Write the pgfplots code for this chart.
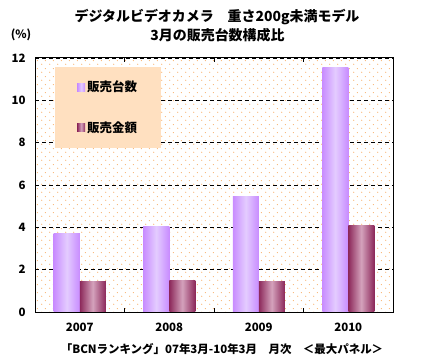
\documentclass[border=0pt]{standalone}
\usepackage{pgfplots}
\pgfplotsset{compat=1.18}
\usepackage{fontspec}
\setmainfont{Noto Sans CJK JP}
\usetikzlibrary{patterns}
\pgfdeclarepatternformonly{bgdots}{\pgfqpoint{0bp}{0bp}}{\pgfqpoint{8bp}{8bp}}{\pgfqpoint{8bp}{8bp}}{%
 \pgfpathcircle{\pgfqpoint{2bp}{2bp}}{0.65bp}\pgfpathcircle{\pgfqpoint{6bp}{6bp}}{0.65bp}\pgfusepath{fill}}
\definecolor{dotc}{RGB}{248,180,115}
\definecolor{purE}{RGB}{200,140,255}
\definecolor{purM}{RGB}{228,204,255}
\definecolor{magE}{RGB}{140,40,90}
\definecolor{magM}{RGB}{212,162,188}
\definecolor{legbg}{RGB}{255,224,192}
\pgfplotsset{
  purbar/.style={draw=none, left color=purE, right color=purE, middle color=purM, bar shift=-13bp},
  magbar/.style={draw=none, left color=magE, right color=magE, middle color=magM, bar shift=13bp},
}
\begin{document}
\begin{tikzpicture}
\useasboundingbox (-35bp,-50bp) rectangle (393bp,312bp);
\begin{axis}[
  at={(0,0)}, anchor=south west,
  scale only axis, width=358bp, height=254bp,
  xmin=-0.5, xmax=3.5, ymin=0, ymax=12,
  ybar, bar width=26bp,
  xtick={0.5,1.5,2.5}, xticklabels={},
  extra x ticks={0,1,2,3}, extra x tick labels={2007,2008,2009,2010},
  extra x tick style={major tick length=0pt},
  major tick length=4bp, tick align=inside,
  xtick style={black, line width=0.8bp},
  ytick={0,2,...,12}, ytick style={draw=none},
  ymajorgrids, major grid style={black, dash pattern=on 4bp off 3bp, line width=0.9bp},
  axis line style={black, line width=1bp},
  axis background/.style={pattern=bgdots, pattern color=dotc},
  /pgf/number format/assume math mode=true,
  ticklabel style={font=\bfseries\fontsize{11.5}{13}\selectfont},
  yticklabel style={xshift=-6bp},
  xticklabel style={yshift=-8bp},
  legend style={at={(0.056,0.965)}, anchor=north west, draw=none, fill=legbg,
     font=\bfseries\fontsize{12.5}{14}\selectfont, row sep=24bp,
     inner xsep=22bp, inner ysep=12bp},
  legend cell align=left,
  legend image code/.code={\path[#1] (0bp,-4bp) rectangle (8bp,4bp);},
]
\addplot[purbar] coordinates {(0,3.73)};
\addplot[magbar] coordinates {(0,1.46)};
\addplot[purbar, forget plot] coordinates {(1,4.06)};
\addplot[purbar, forget plot] coordinates {(2,5.48)};
\addplot[purbar, forget plot] coordinates {(3,11.57)};
\addplot[magbar, forget plot] coordinates {(1,1.51)};
\addplot[magbar, forget plot] coordinates {(2,1.42)};
\addplot[magbar, forget plot] coordinates {(3,4.11)};
\legend{販売台数,販売金額}
\end{axis}
\node[font=\bfseries\fontsize{14}{16}\selectfont] at (182bp,295bp) {デジタルビデオカメラ　重さ200g未満モデル};
\node[font=\bfseries\fontsize{14}{16}\selectfont] at (182.5bp,277bp) {3月の販売台数構成比};
\node[font=\bfseries\fontsize{11.5}{13}\selectfont] at (-14bp,277bp) {(\%)};
\node[font=\bfseries\fontsize{11.5}{13}\selectfont] at (187bp,-37bp) {「BCNランキング」07年3月-10年3月　月次　＜最大パネル＞};
\end{tikzpicture}
\end{document}
